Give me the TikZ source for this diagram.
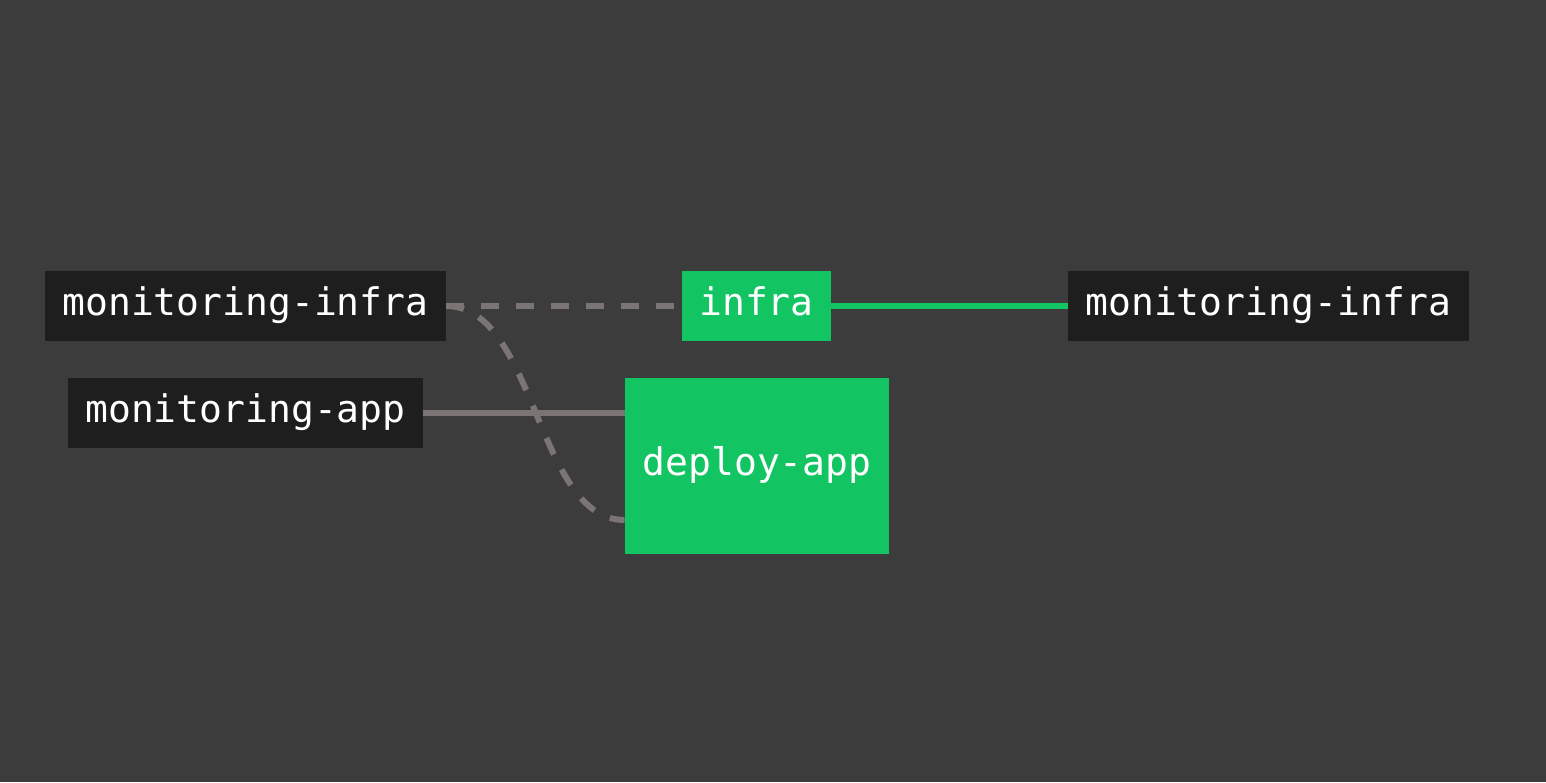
\documentclass[tikz,border=0pt]{standalone}
\usepackage{fontspec}
\setmonofont{DejaVu Sans Mono}
\definecolor{bggrey}{HTML}{3C3C3C}
\definecolor{boxdark}{HTML}{1E1E1E}
\definecolor{jobgreen}{HTML}{12C462}
\definecolor{linkgrey}{HTML}{7A7474}
\pgfdeclarelayer{bglayer}
\pgfdeclarelayer{edgelayer}
\pgfdeclarelayer{nodelayer}
\pgfsetlayers{bglayer,edgelayer,nodelayer,main}
\tikzset{font=\ttfamily\fontsize{19}{23}\selectfont}
\tikzstyle{job}=[text=white,inner xsep=8.6pt,inner ysep=0pt,text height=13pt,text depth=4pt,minimum height=35pt]
\tikzstyle{dark}=[job,fill=boxdark]
\tikzstyle{green}=[job,fill=jobgreen]
\tikzstyle{need}=[draw=linkgrey,line width=3pt]
\tikzstyle{needs}=[need,dash pattern=on 9pt off 8.5pt]
\tikzstyle{next}=[draw=jobgreen,line width=2.6pt]

\begin{document}
\begin{tikzpicture}[x=0.5pt,y=-0.5pt]
	\begin{pgfonlayer}{bglayer}
		\fill[bggrey] (0,0) rectangle (1546,782);
	\end{pgfonlayer}
	\useasboundingbox (0,0) rectangle (1546,782);
	\begin{pgfonlayer}{nodelayer}
		\node [style=dark] (0) at (245.5, 306) {monitoring-infra};
		\node [style=dark] (1) at (245.5, 413) {monitoring-app};
		\node [style=green] (2) at (756.5, 306) {infra};
		\node [style=dark] (3) at (1268.5, 306) {monitoring-infra};
		\node [style=green, minimum width=132pt, minimum height=88pt] (4) at (757, 466) {deploy-app};
		\coordinate (5) at ([yshift=-27pt]4.west);
	\end{pgfonlayer}
	\begin{pgfonlayer}{edgelayer}
		\draw[style=needs] (0.east) to (2.west);
		\draw[style=needs] (0.east) .. controls (536, 306) and (536, 520) .. (5);
		\draw[style=need] (1.east) to (1.east -| 4.west);
		\draw[style=next] (2.east) to (3.west);
	\end{pgfonlayer}
\end{tikzpicture}
\end{document}
